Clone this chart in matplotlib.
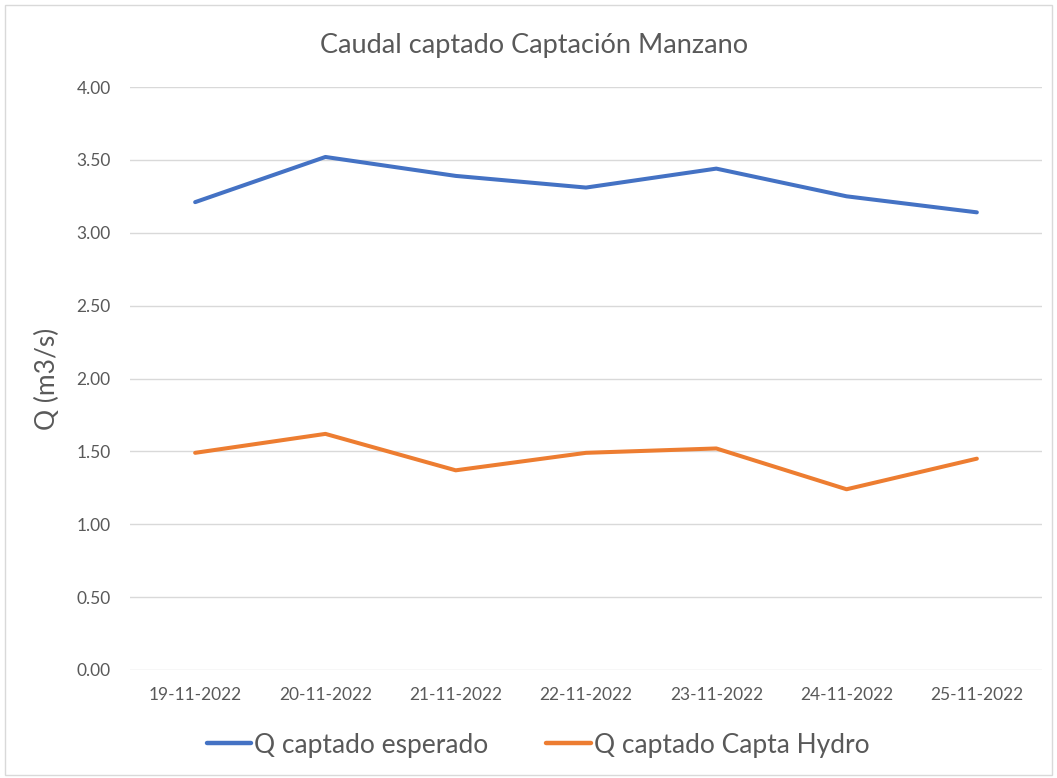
import matplotlib
matplotlib.use("Agg")
import matplotlib.pyplot as plt
from matplotlib.patches import Rectangle

dates = ["19-11-2022", "20-11-2022", "21-11-2022", "22-11-2022",
         "23-11-2022", "24-11-2022", "25-11-2022"]
q_esperado = [3.21, 3.52, 3.39, 3.31, 3.44, 3.25, 3.14]
q_hydro = [1.49, 1.62, 1.37, 1.49, 1.52, 1.24, 1.45]
yticks = [0.0, 0.5, 1.0, 1.5, 2.0, 2.5, 3.0, 3.5, 4.0]

plt.rcParams['font.family'] = ['Lato', 'DejaVu Sans']

fig = plt.figure(figsize=(10.57, 7.78), dpi=100)
ax = fig.add_axes([130/1057, 1-670/778, (1042-130)/1057, (670-87)/778])

x = list(range(len(dates)))
ax.plot(x, q_esperado, color="#4472C4", lw=2.9, label="Q captado esperado",
        solid_capstyle="round", solid_joinstyle="round")
ax.plot(x, q_hydro, color="#ED7D31", lw=2.9, label="Q captado Capta Hydro",
        solid_capstyle="round", solid_joinstyle="round")

ax.set_xlim(-0.5, len(dates) - 0.5)
ax.set_ylim(0, 4)
ax.set_yticks(yticks)
ax.set_yticklabels([f"{v:.2f}" for v in yticks])
ax.set_xticks(x)
ax.set_xticklabels(dates)
ax.grid(axis="y", color="#D9D9D9", lw=1)
ax.set_axisbelow(True)
for s in ax.spines.values():
    s.set_visible(False)
ax.tick_params(length=0, colors="#595959", labelsize=12.5)
ax.tick_params(axis="x", pad=12)
ax.tick_params(axis="y", pad=14)

ax.set_ylabel("Q (m3/s)", fontsize=19, color="#595959", labelpad=12)
fig.text(534/1057, 1-45/778, "Caudal captado Captación Manzano", ha="center",
         va="center", fontsize=19.5, color="#595959")

leg = fig.legend(loc="center", bbox_to_anchor=(538/1057, 1-745/778), ncol=2,
                 frameon=False, fontsize=19, handlelength=1.7,
                 columnspacing=2.2, handletextpad=0.1)
for t in leg.get_texts():
    t.set_color("#595959")
for h in leg.legend_handles:
    h.set_linewidth(3.2)

fig.patches.append(Rectangle((5/1057, 3/778), 1047/1057, 770/778,
                             transform=fig.transFigure, fill=False,
                             edgecolor="#D9D9D9", lw=1))

fig.savefig("out.png", dpi=100)
